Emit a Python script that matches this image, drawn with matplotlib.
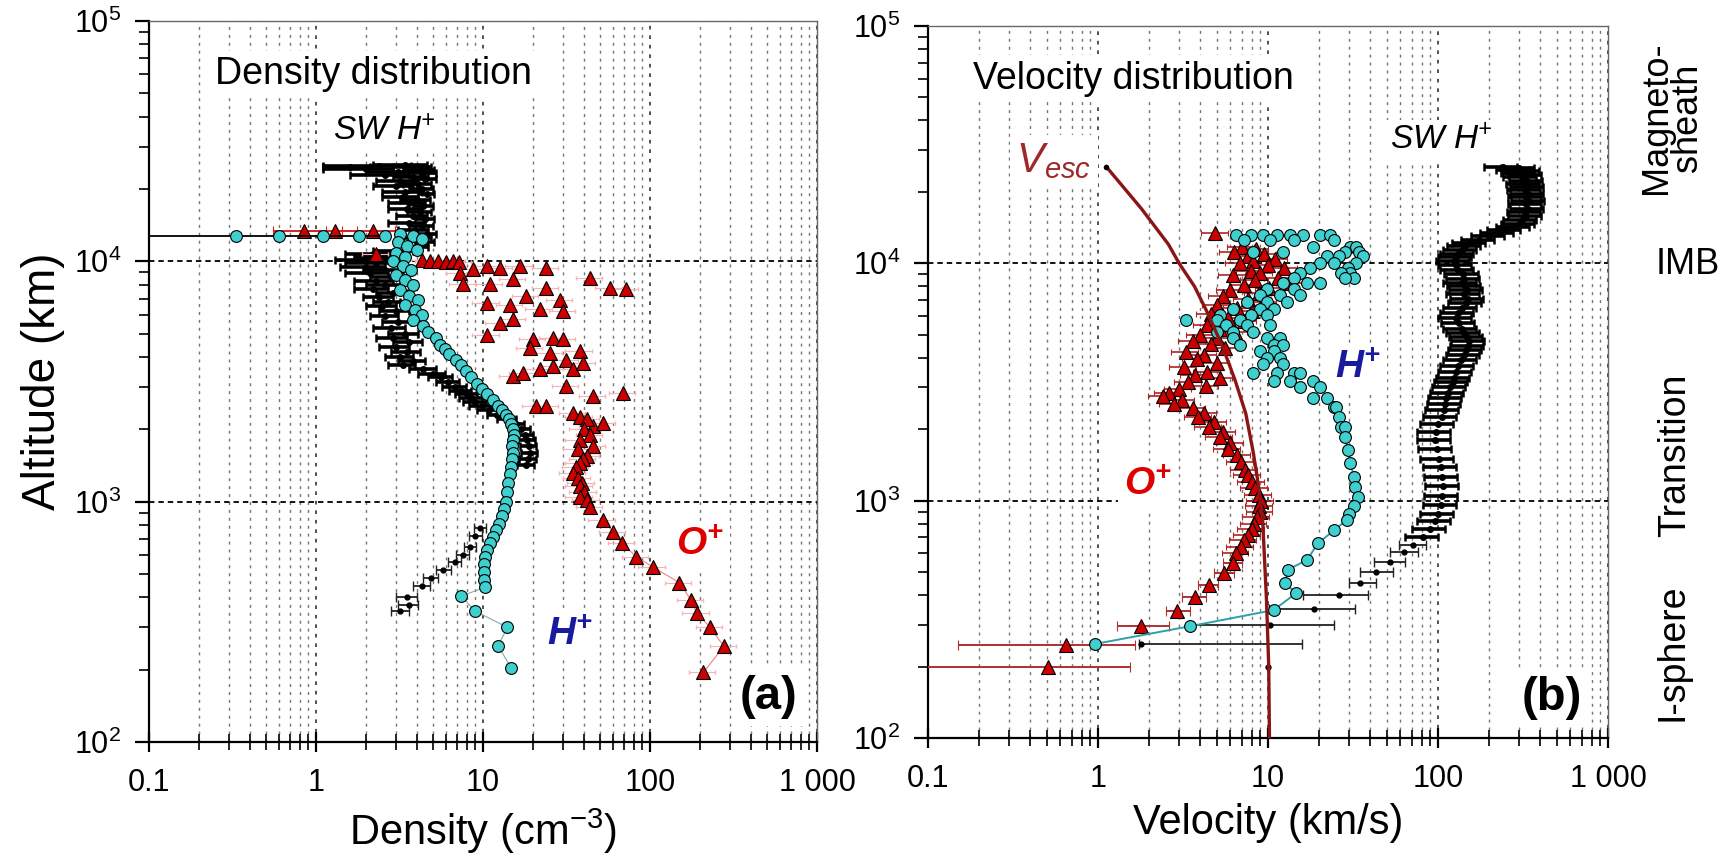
import numpy as np
import matplotlib
matplotlib.use('Agg')
from matplotlib import pyplot as plt
from matplotlib.ticker import FixedLocator, FixedFormatter, LogLocator, NullFormatter

plt.rcParams['font.family'] = ['Liberation Sans', 'DejaVu Sans']
plt.rcParams['mathtext.fontset'] = 'custom'
plt.rcParams['mathtext.default'] = 'regular'

# ---------------- axis ticks ----------------
x_ticks = [0.1, 1, 10, 100, 1000]
x_tick_labels = ['0.1', '1', '10', '100', '1 000']
y_ticks = [1e2, 1e3, 1e4, 1e5]
y_tick_labels = ['$10^{2}$', '$10^{3}$', '$10^{4}$', '$10^{5}$']
boundary_alts = [1e3, 1e4]

# ---------------- (a) density ----------------
# solar wind H+ (black, with error bars)
sw_a_alt = [25200, 25000, 24800, 24600, 24300, 24000, 23600, 23200, 22800, 22400,
            22000, 21500, 21000, 20500, 20000, 19500, 19000, 18500, 18000, 17500,
            17000, 16500, 16000, 15500, 15000, 14500, 14000, 13500, 13000, 12500,
            12000, 11500, 11000, 10700, 10400, 10100, 9800, 9500, 9200, 8900,
            8600, 8300, 8000, 7700, 7400, 7100, 6800, 6500, 6200, 5900,
            5600, 5300, 5000, 4800, 4600, 4400, 4200, 4000, 3850, 3700,
            3550, 3400, 3300, 3150, 3000, 2900, 2800, 2700, 2600, 2500,
            2400, 2300, 2200, 2100, 2000, 1900, 1800, 1700, 1600, 1500,
            1420, 780, 720, 650, 600, 560, 520, 480, 445, 400,
            370, 350]
sw_a_n = [3.4, 2.4, 1.6, 3.9, 2.0, 4.2, 3.1, 4.4, 2.6, 3.8,
          4.5, 3.2, 4.1, 3.0, 4.3, 3.4, 4.6, 3.3, 4.0, 3.6,
          4.4, 3.5, 4.2, 3.8, 4.5, 3.6, 4.3, 3.9, 4.6, 4.1,
          4.5, 4.0, 3.0, 2.2, 2.6, 1.9, 2.3, 2.0, 2.6, 2.1,
          2.8, 2.3, 2.6, 2.2, 2.9, 2.4, 2.7, 2.5, 3.0, 2.6,
          3.1, 2.8, 3.4, 2.9, 3.6, 3.0, 3.5, 3.2, 3.8, 3.3,
          4.4, 5.0, 5.6, 6.2, 6.8, 7.4, 8.0, 8.5, 9.0, 9.8,
          10.8, 12.2, 14.0, 15.8, 17.0, 17.8, 18.4, 18.8, 19.0, 18.6,
          18.0, 9.6, 9.0, 8.4, 7.6, 6.8, 5.8, 4.9, 4.3, 3.5,
          3.6, 3.2]
sw_a_err = [1.2, 1.3, 0.5, 1.0, 0.9, 0.9, 1.1, 0.8, 1.0, 0.9,
            0.7, 0.9, 0.8, 0.8, 0.7, 0.9, 0.5, 0.8, 0.8, 0.9,
            0.6, 0.8, 0.7, 0.8, 0.6, 0.9, 0.7, 0.8, 0.6, 0.8,
            0.6, 0.7, 0.8, 0.7, 0.9, 0.6, 0.8, 0.6, 0.7, 0.6,
            0.7, 0.6, 0.6, 0.5, 0.6, 0.5, 0.5, 0.5, 0.6, 0.5,
            0.6, 0.6, 0.7, 0.6, 0.7, 0.6, 0.7, 0.6, 0.7, 0.6,
            0.8, 0.9, 0.9, 1.0, 1.1, 1.1, 1.2, 1.3, 1.4, 1.5,
            1.6, 1.7, 1.8, 1.9, 2.0, 2.0, 2.1, 2.1, 2.2, 2.2,
            2.1, 0.8, 0.8, 0.7, 0.7, 0.6, 0.6, 0.5, 0.5, 0.5,
            0.5, 0.4]
sw_a_low_below = 1000   # sparse ionospheric points drawn with thin bars

# H+ density (cyan)
ha_row_alt = 12700
ha_row_n = [0.33, 0.6, 1.1, 1.8, 2.6]
ha_row_lo_err = 0.3
ha_alt = [13000, 12800, 12400, 12000, 11600, 11200, 10800, 10400, 10000, 9600,
          9200, 8800, 8400, 8000, 7600, 7200, 6900, 6600, 6300, 6000,
          5700, 5400, 5100, 4800, 4500, 4300, 4100, 3900, 3700, 3500,
          3300, 3100, 2950, 2800, 2650, 2500, 2400, 2300, 2200, 2100,
          2000, 1900, 1800, 1700, 1600, 1500, 1400, 1300, 1200, 1100,
          1000, 930, 870, 810, 760, 710, 670, 630, 590, 550,
          510, 470, 440, 405, 350, 300, 251, 203]
ha_n = [3.2, 3.8, 4.3, 3.1, 3.5, 4.0, 3.0, 3.4, 2.9, 3.3,
        3.7, 3.0, 3.4, 3.8, 3.2, 3.6, 4.1, 3.4, 3.9, 4.3,
        3.8, 4.4, 4.7, 5.2, 5.5, 5.9, 6.3, 6.9, 7.4, 7.9,
        8.5, 9.2, 9.9, 10.6, 11.5, 12.3, 13.0, 13.8, 14.3, 14.8,
        15.1, 15.3, 15.2, 15.0, 15.2, 15.0, 14.8, 14.6, 14.2, 13.9,
        13.8, 13.4, 13.0, 12.4, 11.9, 11.4, 11.0, 10.6, 10.3, 10.2,
        10.1, 10.2, 10.3, 7.4, 9.0, 14.0, 12.3, 14.8]

# O+ density (red)
oa_row_alt = 13400
oa_row_n = [0.85, 1.3, 2.2]
oa_row_rel_err = 0.35
oa_alt = [10700, 10100, 10050, 10000, 9950, 10000, 9900,
          8960, 9250, 9550, 9400, 9550, 9400,
          8010, 8010, 8410, 8550, 7770, 7640,
          6730, 6610, 7160, 7770, 6930, 6210, 6310,
          5550, 4960, 5730, 4730, 4810, 4730,
          4370, 4160, 4230, 3900,
          3330, 3430, 3550, 3660, 3550, 3780,
          3020, 2750, 2830, 2490, 2490, 2340, 2260, 2060, 2120,
          2200, 2000, 1900, 1810, 1700, 1650, 1550, 1500, 1450, 1400,
          1320, 1250, 1200, 1160, 1100, 1050, 1020,
          950, 840, 750, 670, 590, 535, 460, 390, 345, 300, 250, 195]
oa_n = [2.3, 4.3, 4.8, 5.4, 6.0, 6.6, 7.2,
        7.3, 8.7, 10.5, 12.6, 16.6, 24,
        7.6, 11, 15.2, 43.7, 57.5, 72,
        10.5, 14.5, 18.2, 24, 28.9, 30.3, 21.9,
        12.6, 10.5, 15.2, 20, 26.4, 30.3,
        19.1, 25.2, 38, 31.6,
        15.2, 17.4, 21.9, 26.4, 34.7, 39.8,
        31.6, 45.7, 69, 20.9, 24, 34.7, 38, 45.7, 52.5,
        42, 40, 44, 38, 45.7, 37, 42, 39.8, 38, 36,
        34.7, 37, 39, 38, 40, 38, 41.7,
        44, 52, 60, 68, 83, 104, 150, 176, 190, 229, 277, 209]
oa_rel_err = 0.18

# ---------------- (b) velocity ----------------
vesc_alt = [25500, 17000, 12000, 10000, 7980, 6200, 4460, 3220, 2330, 1590, 1150, 830,
            380, 200, 100]
vesc_v = [1.12, 1.8, 2.6, 3.0, 3.7, 4.4, 5.4, 6.4, 7.4, 8.2, 8.8, 9.3, 9.8, 10.1, 10.2]

sw_b_alt = [25500, 25200, 24800, 24400, 24000, 23500, 23000, 22300, 21600, 21000,
            20300, 19600, 19000, 18300, 17700, 17000, 16400, 15800, 15200, 14700,
            14200, 13800, 13400, 13000, 12600, 12200, 11800, 11400, 11000, 10600,
            10200, 9800, 9400, 9000, 8600, 8300, 8000, 7700, 7400, 7100,
            6800, 6500, 6200, 5900, 5600, 5300, 5100, 4900, 4700, 4500,
            4300, 4100, 3900, 3700, 3500, 3300, 3150, 3000, 2850, 2700,
            2550, 2400, 2250, 2100, 1950, 1800, 1650, 1500, 1380, 1260,
            1150, 1050, 960, 880, 820, 760, 705]
sw_b_v = [240, 300, 280, 320, 300, 330, 310, 335, 320, 340,
          325, 340, 330, 345, 330, 340, 325, 330, 310, 300,
          280, 250, 225, 200, 175, 155, 145, 138, 132, 128,
          125, 128, 132, 140, 142, 138, 145, 148, 143, 150,
          146, 138, 132, 128, 133, 138, 142, 148, 152, 150,
          147, 142, 137, 132, 128, 125, 122, 118, 115, 112,
          110, 108, 105, 100, 97, 96, 98, 101, 104, 106,
          107, 106, 104, 100, 96, 90, 82]
sw_b_rel_err = 0.22
sw_c_alt = [650, 610, 553, 502, 449, 401, 349, 299, 250, 200]
sw_c_v = [71, 63, 52, 43, 35, 26, 18.7, 10.3, 1.8, 10.0]
sw_c_lo = [12, 11, 10, 8, 5, 10, 8.6, 6.8, 0.05, 0]
sw_c_hi = [14, 13, 12, 11, 8, 13, 14, 14, 14, 0]

hb_alt = [13150, 13150, 13150, 13150, 13150, 13150, 13150, 13150,
          12500, 12500, 12500, 12500, 11750, 11750, 11750,
          11200, 11200, 11200, 11200, 10700, 10700, 10700,
          10000, 10000, 10000, 9550, 9550, 9120, 9120, 9120,
          8690, 8690, 8690, 8300, 8300, 8300, 7800, 7800,
          7330, 7330, 7330, 6870, 6870, 6870, 6450, 6450, 6450,
          6050, 6050, 6050, 5770, 5770, 5770, 5500, 5500, 5500,
          5160, 5160, 5160, 4840, 4840, 4840, 4540, 4540, 4540,
          4260, 4260, 4000, 4000, 3750, 3750,
          3460, 3460, 3460, 3460, 3200, 3200, 3200, 3000, 3000,
          2720, 2720, 2480, 2480, 2260, 2050, 2050,
          1860, 1640, 1440, 1260, 1140, 1040, 950, 880, 830, 752,
          660, 563, 512, 450, 407, 346, 296, 249]
hb_v = [6.5, 7.9, 9.4, 11.3, 13.5, 16.1, 20.2, 23.2,
        7.2, 10.3, 14.2, 24.3, 18.4, 30.5, 33,
        28.2, 34.5, 12.3, 8.2, 22.2, 26, 36,
        20.2, 24.3, 33, 17.7, 29.5, 15.5, 30.5, 27,
        14.2, 32, 28.2, 12.3, 17, 20.2, 9.8, 14.2,
        9, 11.8, 15.5, 7.5, 9.8, 12.9, 6.2, 9, 10.8,
        5.2, 7.9, 9.8, 3.3, 5.0, 6.8, 5.7, 7.5, 10.3,
        5.0, 6.2, 8.2, 6.2, 9.8, 11.8, 6.8, 10.8, 12.3,
        9, 10.8, 9.8, 11.8, 9.4, 12.3,
        8.2, 11.3, 14.2, 15.5, 10.8, 13.5, 18.4, 15.5, 20.2,
        18.4, 22.2, 24.3, 25, 26, 27, 28.2,
        28.2, 29.5, 30.5, 32, 32.5, 34, 32, 30, 29, 24.6,
        19.6, 17, 13.1, 12.6, 14.6, 10.8, 3.5, 0.96]
hb_tail_below = 2000

ob_alt = [13400,
          11750, 11500, 11200, 11000, 10700, 10400, 10200, 10000, 9800, 9550,
          9300, 9100, 8900, 8700, 8500, 8300, 8100, 7900, 7700, 7500,
          7300, 7100, 6900, 6700, 6500, 6300, 6100, 5900, 5700, 5500, 5300, 5150,
          5000, 4850, 4700, 4550, 4400, 4250, 4100, 3950, 3800,
          3650, 3500, 3400, 3300, 3150, 3050, 2950, 2850,
          2750, 2650, 2550, 2450, 2350, 2250, 2150, 2050, 1950,
          1850, 1750, 1650, 1550, 1450, 1350, 1280,
          1200, 1130, 1060, 1000, 950, 900, 850,
          800, 760, 720, 680, 640, 600]
ob_v = [4.9,
        7.0, 8.5, 6.3, 9.5, 7.6, 11.0, 8.2, 6.8, 10.0, 12.5,
        7.9, 9.0, 6.2, 11.5, 8.4, 13.5, 7.2, 10.2, 6.0, 8.8,
        5.4, 7.6, 9.4, 5.0, 6.6, 8.0, 4.6, 5.8, 7.2, 4.4, 5.2, 6.4,
        4.0, 5.0, 3.6, 4.6, 5.6, 3.3, 4.2, 3.8, 5.0,
        3.2, 4.4, 3.7, 5.2, 3.4, 4.3, 3.0, 2.6,
        2.4, 3.1, 2.8, 3.6, 4.2, 3.9, 4.8, 4.5, 5.4,
        5.2, 6.0, 5.8, 6.6, 6.9, 7.3, 7.6,
        8.0, 8.4, 8.8, 9.1, 8.9, 9.0, 8.6,
        8.3, 8.0, 7.6, 7.2, 6.9, 6.5]
ob_rel_err = 0.18
ob_tail_alt = [545, 495, 442, 393, 343, 295, 246, 199]
ob_tail_v = [6.2, 5.5, 4.5, 3.7, 2.9, 1.8, 0.65, 0.51]
ob_tail_min = [5.4, 4.8, 3.9, 3.1, 2.5, 1.29, 0.15, 0.09]
ob_tail_max = [7.0, 6.3, 5.1, 4.3, 3.5, 2.6, 1.66, 1.55]

# ---------------- colours ----------------
CYAN = '#40cfcf'
RED = '#cc0000'
DARKRED = '#8b1414'
BLUE = '#1a1a9e'
LABELRED = '#e00000'

fig = plt.figure(figsize=(17.26, 8.55), dpi=100)
ax1 = fig.add_axes([149 / 1726, 113 / 855, 668 / 1726, 721 / 855])
ax2 = fig.add_axes([928 / 1726, 117 / 855, 680 / 1726, 712 / 855])


def style_axes(ax):
    ax.set_xscale('log')
    ax.set_yscale('log')
    ax.set_xlim(0.1, 1000)
    ax.set_ylim(100, 1e5)
    ax.xaxis.set_major_locator(FixedLocator(x_ticks))
    ax.xaxis.set_major_formatter(FixedFormatter(x_tick_labels))
    ax.xaxis.set_minor_locator(LogLocator(base=10, subs=np.arange(2, 10), numticks=20))
    ax.xaxis.set_minor_formatter(NullFormatter())
    ax.yaxis.set_major_locator(FixedLocator(y_ticks))
    ax.yaxis.set_major_formatter(FixedFormatter(y_tick_labels))
    ax.yaxis.set_minor_locator(LogLocator(base=10, subs=np.arange(2, 10), numticks=20))
    ax.yaxis.set_minor_formatter(NullFormatter())
    ax.set_axisbelow(True)
    ax.grid(True, axis='x', which='major', color='#333333', ls=(0, (2.2, 3.5)), lw=1.2)
    ax.grid(True, axis='x', which='minor', color='#777777', ls=(0, (2.2, 3.5)), lw=1.0)
    for a in boundary_alts:
        ax.axhline(a, color='k', ls=(0, (3, 2.2)), lw=1.3, zorder=1)
    ax.tick_params(axis='x', which='major', direction='inout', length=14, width=1.6,
                   labelsize=22, pad=12)
    ax.tick_params(axis='x', which='minor', direction='inout', length=12, width=1.2)
    ax.tick_params(axis='y', which='major', direction='out', length=10, width=1.6,
                   labelsize=22, pad=10)
    ax.tick_params(axis='y', which='minor', direction='out', length=7, width=1.2)
    for s in ('left', 'bottom'):
        ax.spines[s].set_linewidth(1.6)
    for s in ('top', 'right'):
        ax.spines[s].set_linewidth(1.0)
        ax.spines[s].set_color('#666666')


style_axes(ax1)
style_axes(ax2)

white = dict(boxstyle='square,pad=0.15', fc='white', ec='none')
sw_dense = dict(fmt='o', ms=4, color='k', ecolor='k', elinewidth=2.6, capsize=3,
                capthick=1.8, zorder=2)
sw_sparse = dict(fmt='o', ms=3.5, color='k', ecolor='#222222', elinewidth=1.3,
                 capsize=3.5, zorder=2)

# ---------- panel (a) ----------
sw_a_alt_arr = np.array(sw_a_alt)
sw_a_n_arr = np.array(sw_a_n)
sw_a_err_arr = np.array(sw_a_err)
hi = sw_a_alt_arr >= sw_a_low_below
ax1.errorbar(sw_a_n_arr[hi], sw_a_alt_arr[hi], xerr=sw_a_err_arr[hi], **sw_dense)
ax1.errorbar(sw_a_n_arr[~hi], sw_a_alt_arr[~hi], xerr=sw_a_err_arr[~hi], **sw_sparse)

oa_n_arr = np.array(oa_n)
ax1.errorbar(oa_n_arr, oa_alt, xerr=oa_n_arr * oa_rel_err, fmt='none',
             ecolor='#f6b4b4', elinewidth=0.8, capsize=1.5, zorder=2.5)
ax1.plot(oa_n[-11:], oa_alt[-11:], color='#f08080', lw=0.8, zorder=2.6)
ax1.plot(oa_n, oa_alt, ls='none', marker='^', ms=9.5, mfc=RED, mec='k', mew=0.8, zorder=3)
oa_row = np.array(oa_row_n)
ax1.errorbar(oa_row, [oa_row_alt] * len(oa_row), xerr=oa_row * oa_row_rel_err,
             fmt='^', ms=9.5, mfc=RED, mec='k', mew=0.8, ecolor='#e02020',
             elinewidth=1.4, capsize=3.5, capthick=1.4, zorder=3)

ax1.errorbar(ha_row_n[:1], [ha_row_alt], xerr=[[ha_row_lo_err], [0]], fmt='none',
             ecolor='k', elinewidth=1.3, capsize=0, zorder=3.5)
ax1.plot(ha_row_n, [ha_row_alt] * len(ha_row_n), color='k', lw=1.3, marker='o', ms=8.5,
         mfc=CYAN, mec='k', mew=0.8, zorder=4)
ha_alt_arr = np.array(ha_alt)
tail = ha_alt_arr < 460
ax1.plot(np.array(ha_n)[tail], ha_alt_arr[tail], color='#8aa8a8', lw=0.8, zorder=3.8)
ax1.plot(ha_n, ha_alt, ls='none', marker='o', ms=8.5, mfc=CYAN, mec='k', mew=0.8, zorder=4)

ax1.text(0.25, 6.0e4, 'Density distribution', fontsize=27, ha='left', va='center',
         bbox=white, zorder=6)
ax1.text(2.55, 3.47e4, 'SW H$^{+}$', fontsize=24, style='italic', ha='center',
         va='center', bbox=white, zorder=6)
ax1.text(200, 660, 'O$^{+}$', fontsize=28, style='italic', fontweight='bold',
         color=LABELRED, ha='center', va='center', bbox=white, zorder=6)
ax1.text(33, 280, 'H$^{+}$', fontsize=28, style='italic', fontweight='bold',
         color=BLUE, ha='center', va='center', bbox=white, zorder=6)
ax1.text(509, 154, '(a)', fontsize=34, fontweight='bold', ha='center', va='center',
         bbox=white, zorder=6)

ax1.set_xlabel('Density (cm$^{-3}$)', fontsize=30, labelpad=6)
ax1.set_ylabel('Altitude (km)', fontsize=33, labelpad=6)

# ---------- panel (b) ----------
sw_b = np.array(sw_b_v)
ax2.errorbar(sw_b, sw_b_alt, xerr=sw_b * sw_b_rel_err, **sw_dense)
ax2.errorbar(sw_c_v, sw_c_alt, xerr=[sw_c_lo, sw_c_hi], **sw_sparse)

ob = np.array(ob_v)
ax2.errorbar(ob, ob_alt, xerr=ob * ob_rel_err, fmt='^', ms=9.5, mfc=RED, mec='k',
             mew=0.8, ecolor='#b02424', elinewidth=1.2, capsize=2.5, zorder=3)
ob_t = np.array(ob_tail_v)
ax2.errorbar(ob_t, ob_tail_alt,
             xerr=[ob_t - np.array(ob_tail_min), np.array(ob_tail_max) - ob_t],
             fmt='^', ms=9.5, mfc=RED, mec='k', mew=0.8, ecolor='#b03030',
             elinewidth=1.4, capsize=3.5, zorder=3)

hb_alt_arr = np.array(hb_alt)
hb_v_arr = np.array(hb_v)
low = hb_alt_arr < hb_tail_below
ax2.plot(hb_v_arr[low], hb_alt_arr[low], color='#2fa0a8', lw=1.4, zorder=3.8)
ax2.plot(hb_v, hb_alt, ls='none', marker='o', ms=8.5, mfc=CYAN, mec='k', mew=0.8, zorder=4)

ax2.plot(vesc_v, vesc_alt, color=DARKRED, lw=2.4, zorder=5)
ax2.plot(vesc_v[:1], vesc_alt[:1], 'o', ms=3, color='k', zorder=5.5)

ax2.text(0.185, 6.0e4, 'Velocity distribution', fontsize=27, ha='left', va='center',
         bbox=white, zorder=6)
ax2.text(104, 3.28e4, 'SW H$^{+}$', fontsize=24, style='italic', ha='center',
         va='center', bbox=white, zorder=6)
ax2.text(0.55, 2.7e4, '$V_{esc}$', fontsize=30, style='italic', color='#a02828',
         ha='center', va='center', bbox=white, zorder=6)
ax2.text(34, 3620, 'H$^{+}$', fontsize=28, style='italic', fontweight='bold',
         color=BLUE, ha='center', va='center', bbox=white, zorder=6)
ax2.text(1.97, 1165, 'O$^{+}$', fontsize=28, style='italic', fontweight='bold',
         color=LABELRED, ha='center', va='center', bbox=white, zorder=6)
ax2.text(468, 147, '(b)', fontsize=34, fontweight='bold', ha='center', va='center',
         bbox=white, zorder=6)

ax2.set_xlabel('Velocity (km/s)', fontsize=30, labelpad=6)

# region labels on the right
fig.text(1672 / 1726, 1 - 118 / 855, 'Magneto-\nsheath', rotation=90, fontsize=26,
         ha='center', va='center', multialignment='center', linespacing=0.85)
fig.text(1688 / 1726, 1 - 265 / 855, 'IMB', fontsize=26, ha='center', va='center')
fig.text(1675 / 1726, 1 - 455 / 855, 'Transition', rotation=90, fontsize=27,
         ha='center', va='center')
fig.text(1672 / 1726, 1 - 652 / 855, 'I-sphere', rotation=90, fontsize=27,
         ha='center', va='center')

fig.savefig('out.png', dpi=100)
